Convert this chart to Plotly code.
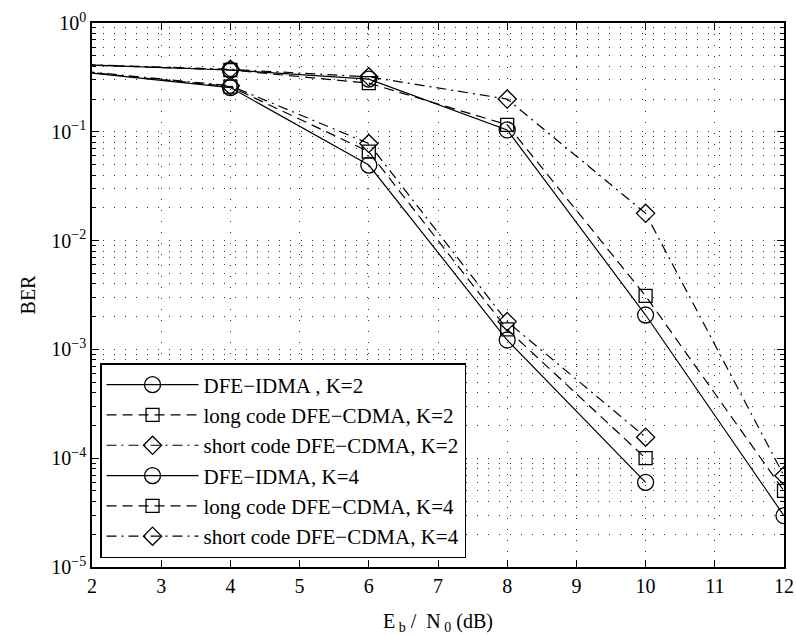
import plotly.graph_objects as go

# Eb/N0 points (dB); the 0 dB point sits left of the visible range
ebn0_k2 = [0, 4, 6, 8, 10]
ebn0_k4 = [0, 4, 6, 8, 10, 12]

# BER, two users
idma_k2 = [0.47, 0.255, 0.0495, 0.00122, 6.0e-5]
long_k2 = [0.47, 0.26, 0.0656, 0.00153, 1.0e-4]
short_k2 = [0.47, 0.265, 0.078, 0.0018, 1.56e-4]

# BER, four users
idma_k4 = [0.455, 0.37, 0.305, 0.104, 0.00207, 2.96e-5]
long_k4 = [0.455, 0.37, 0.28, 0.116, 0.0031, 5.0e-5]
short_k4 = [0.455, 0.375, 0.32, 0.20, 0.0178, 6.9e-5]

names = [
    "DFE\u2212IDMA , K=2",
    "long code DFE\u2212CDMA, K=2",
    "short code DFE\u2212CDMA, K=2",
    "DFE\u2212IDMA, K=4",
    "long code DFE\u2212CDMA, K=4",
    "short code DFE\u2212CDMA, K=4",
]

y_tickvals = [1e-5, 1e-4, 1e-3, 1e-2, 1e-1, 1e0]
y_ticktext = ["10<sup>\u22125</sup>", "10<sup>\u22124</sup>", "10<sup>\u22123</sup>",
              "10<sup>\u22122</sup>", "10<sup>\u22121</sup>", "10<sup>0</sup>"]
x_tickvals = list(range(2, 13))

FONT = "'Liberation Serif', Tinos, 'Times New Roman', 'Nimbus Roman', 'DejaVu Serif', serif"

styles = [
    dict(dash="solid", symbol="circle-open", size=16),
    dict(dash="10px,6px", symbol="square-open", size=13),
    dict(dash="10px,5px,2px,5px", symbol="diamond-open", size=14),
]

series = [
    (ebn0_k2, idma_k2), (ebn0_k2, long_k2), (ebn0_k2, short_k2),
    (ebn0_k4, idma_k4), (ebn0_k4, long_k4), (ebn0_k4, short_k4),
]

fig = go.Figure()
for i, ((xs, ys), name) in enumerate(zip(series, names)):
    st = styles[i % 3]
    fig.add_trace(go.Scatter(
        x=xs, y=ys, name=name, mode="lines+markers",
        line=dict(color="black", width=1.2, dash=st["dash"]),
        marker=dict(symbol=st["symbol"], size=st["size"], color="black",
                    line=dict(color="black", width=1.3)),
        cliponaxis=True,
    ))

# minor log ticks 2..9 in each decade
minor_vals = [m * 10.0 ** e for e in range(-5, 0) for m in range(2, 10)]

grid = dict(showgrid=True, gridcolor="#333333", gridwidth=1, griddash="1px,10px")

fig.update_layout(
    width=796, height=635,
    margin=dict(l=92, r=12, t=23, b=68, pad=0, autoexpand=False),
    paper_bgcolor="white", plot_bgcolor="white",
    font=dict(family=FONT, size=20, color="black"),
    showlegend=True,
    legend=dict(
        x=0.0116, y=0.0165, xanchor="left", yanchor="bottom",
        bgcolor="white", bordercolor="black", borderwidth=1.5,
        font=dict(family=FONT, size=21, color="black"),
        tracegroupgap=0, itemwidth=92,
    ),
    xaxis=dict(
        range=[2, 12], tickmode="array", tickvals=x_tickvals,
        ticks="inside", ticklen=7, tickcolor="black", tickwidth=1,
        showline=True, linecolor="black", linewidth=1.5, mirror="ticks",
        zeroline=False, automargin=False,
        title=dict(text="E<sub> b</sub> /  N<sub> 0</sub> (dB)", standoff=20,
                   font=dict(family=FONT, size=20)),
        tickfont=dict(family=FONT, size=20),
        **grid,
    ),
    yaxis=dict(
        type="log", range=[-5, 0], tickmode="array",
        tickvals=y_tickvals, ticktext=y_ticktext,
        ticks="inside", ticklen=7, tickcolor="black", tickwidth=1,
        showline=True, linecolor="black", linewidth=1.5, mirror="ticks",
        zeroline=False, automargin=False,
        minor=dict(tickmode="array", tickvals=minor_vals, ticks="inside",
                   ticklen=4, tickcolor="black", showgrid=True,
                   gridcolor="#333333", gridwidth=1, griddash="1px,10px"),
        title=dict(text="BER", standoff=10, font=dict(family=FONT, size=20)),
        tickfont=dict(family=FONT, size=20),
        **grid,
    ),
)

fig.write_html("out.html")
